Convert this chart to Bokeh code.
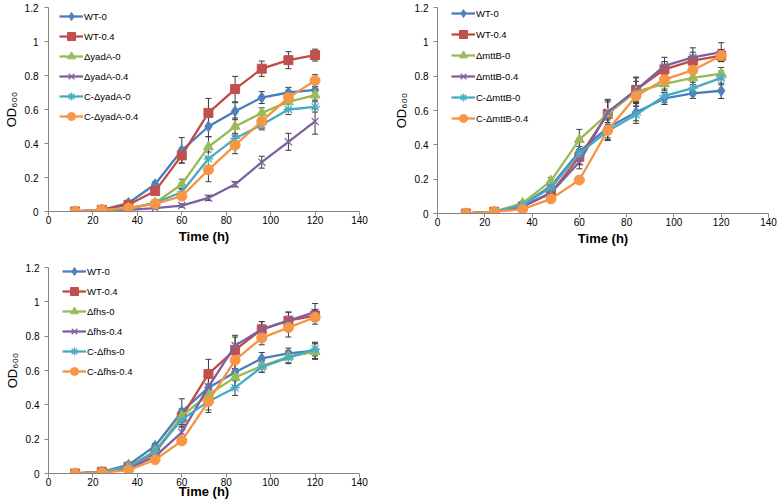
from bokeh.plotting import figure
from bokeh.models import (ColumnDataSource, Whisker, TeeHead, Legend, LegendItem,
                          Range1d, FixedTicker)
from bokeh.layouts import row, column
from bokeh.embed import file_html
from bokeh.resources import INLINE

# ---------------- data ----------------
time_h = [12, 24, 36, 48, 60, 72, 84, 96, 108, 120]
x_ticks = [0, 20, 40, 60, 80, 100, 120, 140]
y_ticks = [0, 0.2, 0.4, 0.6, 0.8, 1.0, 1.2]
y_tick_labels = ["0", "0.2", "0.4", "0.6", "0.8", "1", "1.2"]

wt_0 = [0.0, 0.01, 0.05, 0.16, 0.36, 0.50, 0.59, 0.67, 0.70, 0.715]
wt_0_err = [0, 0, 0.005, 0.015, 0.075, 0.06, 0.05, 0.035, 0.03, 0.045]
wt_04 = [0.0, 0.01, 0.04, 0.12, 0.33, 0.58, 0.72, 0.84, 0.89, 0.92]
wt_04_err = [0, 0, 0.005, 0.015, 0.045, 0.085, 0.075, 0.045, 0.05, 0.035]

yada_labels = ["WT-0", "WT-0.4", "ΔyadA-0", "ΔyadA-0.4", "C-ΔyadA-0", "C-ΔyadA-0.4"]
yada_0 = [0.0, 0.005, 0.02, 0.05, 0.16, 0.38, 0.50, 0.58, 0.645, 0.685]
yada_0_err = [0, 0, 0.005, 0.01, 0.03, 0.06, 0.05, 0.03, 0.04, 0.03]
yada_04 = [0.0, 0.005, 0.01, 0.02, 0.035, 0.08, 0.16, 0.29, 0.41, 0.53]
yada_04_err = [0, 0, 0, 0.005, 0.01, 0.015, 0.015, 0.035, 0.05, 0.075]
c_yada_0 = [0.0, 0.005, 0.015, 0.05, 0.115, 0.31, 0.43, 0.51, 0.60, 0.615]
c_yada_0_err = [0, 0, 0.005, 0.01, 0.02, 0.04, 0.03, 0.03, 0.03, 0.03]
c_yada_04 = [0.0, 0.01, 0.02, 0.045, 0.09, 0.245, 0.39, 0.53, 0.67, 0.77]
c_yada_04_err = [0, 0, 0.005, 0.01, 0.02, 0.07, 0.05, 0.04, 0.04, 0.035]

mttb_labels = ["WT-0", "WT-0.4", "ΔmttB-0", "ΔmttB-0.4", "C-ΔmttB-0", "C-ΔmttB-0.4"]
mttb_0 = [0.0, 0.01, 0.06, 0.19, 0.43, 0.58, 0.71, 0.755, 0.79, 0.815]
mttb_0_err = [0, 0, 0.005, 0.02, 0.06, 0.07, 0.06, 0.04, 0.04, 0.035]
mttb_04 = [0.0, 0.01, 0.04, 0.12, 0.30, 0.59, 0.72, 0.86, 0.91, 0.94]
mttb_04_err = [0, 0, 0.005, 0.015, 0.04, 0.07, 0.07, 0.05, 0.055, 0.055]
c_mttb_0 = [0.0, 0.01, 0.05, 0.15, 0.35, 0.48, 0.575, 0.685, 0.73, 0.79]
c_mttb_0_err = [0, 0, 0.005, 0.015, 0.04, 0.05, 0.05, 0.04, 0.035, 0.04]
c_mttb_04 = [0.0, 0.01, 0.025, 0.085, 0.195, 0.485, 0.685, 0.78, 0.835, 0.92]
c_mttb_04_err = [0, 0, 0.005, 0.01, 0.02, 0.06, 0.06, 0.04, 0.04, 0.03]

fhs_labels = ["WT-0", "WT-0.4", "Δfhs-0", "Δfhs-0.4", "C-Δfhs-0", "C-Δfhs-0.4"]
fhs_0 = [0.0, 0.005, 0.04, 0.13, 0.335, 0.46, 0.56, 0.625, 0.68, 0.71]
fhs_0_err = [0, 0, 0.005, 0.015, 0.04, 0.06, 0.05, 0.035, 0.035, 0.045]
fhs_04 = [0.0, 0.005, 0.03, 0.10, 0.24, 0.505, 0.745, 0.84, 0.89, 0.94]
fhs_04_err = [0, 0, 0.005, 0.01, 0.03, 0.06, 0.06, 0.045, 0.05, 0.05]
c_fhs_0 = [0.0, 0.01, 0.04, 0.13, 0.315, 0.42, 0.50, 0.62, 0.675, 0.725]
c_fhs_0_err = [0, 0, 0.005, 0.015, 0.04, 0.05, 0.045, 0.03, 0.035, 0.04]
c_fhs_04 = [0.0, 0.005, 0.02, 0.08, 0.19, 0.42, 0.66, 0.79, 0.85, 0.91]
c_fhs_04_err = [0, 0, 0.005, 0.01, 0.02, 0.065, 0.05, 0.04, 0.055, 0.04]

# ---------------- styles ----------------
line_colors = ["#4A7EBB", "#BE4B48", "#98B954", "#7D60A0", "#46AAC5", "#F69240"]
marker_colors = ["#4F81BD", "#C0504D", "#9BBB59", "#8064A2", "#4BACC6", "#F79646"]
markers = ["diamond", "square", "triangle", "x", "asterisk", "circle"]
marker_sizes = [11, 9, 10, 10, 10, 10]
FONT = "Liberation Sans"
AXIS_GRAY = "#868686"


def make_panel(labels, series, errors, width, height, borders, legend_xy, ylab_standoff,
               xlab_standoff, row_spacing, tick_standoff_y):
    top, right, bottom, left = borders
    p = figure(width=width, height=height, min_border_top=top, min_border_right=right,
               min_border_bottom=bottom, min_border_left=left,
               x_range=Range1d(0, 140), y_range=Range1d(0, 1.2),
               output_backend="svg", toolbar_location=None, tools="")
    p.outline_line_color = None
    p.xgrid.visible = False
    p.ygrid.visible = False
    p.background_fill_color = "white"
    p.border_fill_color = "white"

    p.xaxis.ticker = FixedTicker(ticks=x_ticks)
    p.yaxis.ticker = FixedTicker(ticks=y_ticks)
    p.yaxis.major_label_overrides = dict(zip(y_ticks, y_tick_labels))
    for ax in (p.xaxis[0], p.yaxis[0]):
        ax.axis_line_color = AXIS_GRAY
        ax.major_tick_line_color = AXIS_GRAY
        ax.minor_tick_line_color = None
        ax.major_tick_out = 4
        ax.major_tick_in = 0
        ax.major_label_text_font = FONT
        ax.major_label_text_font_size = "10px"
        ax.major_label_text_color = "#000000"
        ax.axis_label_text_font = FONT
        ax.axis_label_text_color = "#000000"
    p.xaxis.major_label_standoff = 0
    p.yaxis.major_label_standoff = tick_standoff_y
    p.xaxis.axis_label = "Time (h)"
    p.xaxis.axis_label_text_font_style = "bold"
    p.xaxis.axis_label_text_font_size = "13px"
    p.xaxis.axis_label_standoff = xlab_standoff
    p.yaxis.axis_label = "OD₆₀₀"
    p.yaxis.axis_label_text_font_style = "normal"
    p.yaxis.axis_label_text_font_size = "13px"
    p.yaxis.axis_label_standoff = ylab_standoff

    items = []
    for i, (lab, ys, es) in enumerate(zip(labels, series, errors)):
        lr = p.line(time_h, ys, line_color=line_colors[i], line_width=2.3)
        filled = markers[i] not in ("x", "asterisk")
        sr = p.scatter(time_h, ys, marker=markers[i], size=marker_sizes[i],
                       fill_color=marker_colors[i] if filled else None,
                       line_color=marker_colors[i], line_width=1.3 if not filled else 1)
        ex = [t for t, e in zip(time_h, es) if e > 0]
        up = [y + e for y, e in zip(ys, es) if e > 0]
        lo = [y - e for y, e in zip(ys, es) if e > 0]
        src = ColumnDataSource(dict(x=ex, upper=up, lower=lo))
        w = Whisker(source=src, base="x", upper="upper", lower="lower",
                    line_color="#3a3a3a", line_width=1,
                    upper_head=TeeHead(size=6, line_color="#3a3a3a", line_width=1),
                    lower_head=TeeHead(size=6, line_color="#3a3a3a", line_width=1))
        p.add_layout(w)
        items.append(LegendItem(label=lab, renderers=[lr, sr]))

    legend = Legend(items=items, location=legend_xy, glyph_width=24, glyph_height=20,
                    label_height=20, spacing=row_spacing, padding=0, margin=0,
                    label_standoff=1, border_line_color=None, background_fill_alpha=0,
                    label_text_font=FONT, label_text_font_size="9.5px",
                    label_text_color="#000000")
    p.add_layout(legend)
    return p


# width, height, (top, right, bottom, left) borders; frames: p1 316x204, p2 336x206, p3 317x207
p1 = make_panel(yada_labels,
                [wt_0, wt_04, yada_0, yada_04, c_yada_0, c_yada_04],
                [wt_0_err, wt_04_err, yada_0_err, yada_04_err, c_yada_0_err, c_yada_04_err],
                390, 258, (7, 28, 47, 46), (11, 85), 3, 2, 0, 6)
p2 = make_panel(mttb_labels,
                [wt_0, wt_04, mttb_0, mttb_04, c_mttb_0, c_mttb_04],
                [wt_0_err, wt_04_err, mttb_0_err, mttb_04_err, c_mttb_0_err, c_mttb_04_err],
                388, 251, (7, 10, 38, 42), (14, 85), 3, 2, 1, 5)
p3 = make_panel(fhs_labels,
                [wt_0, wt_04, fhs_0, fhs_04, c_fhs_0, c_fhs_04],
                [wt_0_err, wt_04_err, fhs_0_err, fhs_04_err, c_fhs_0_err, c_fhs_04_err],
                390, 243, (9, 31, 27, 42), (14, 92), 3, -5, 0, 5)

layout = row(column(p1, p3, spacing=0), p2, spacing=0)

open("out.html", "w").write(file_html(layout, INLINE))
